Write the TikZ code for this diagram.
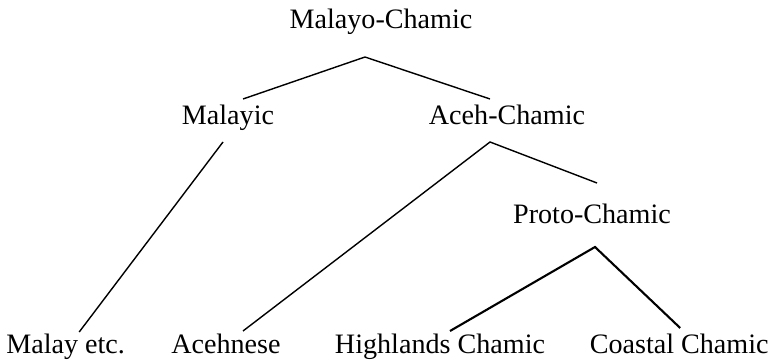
\documentclass[tikz,border=0pt]{standalone}
\usepackage{fontspec}
\setmainfont{Liberation Serif}
\begin{document}
\begin{tikzpicture}[
    lang/.style={anchor=base,inner sep=0pt,font=\fontsize{20}{24}\selectfont},
    branch/.style={line width=1pt},
    thickbranch/.style={line width=1.5pt}
]
\useasboundingbox (0,0) rectangle (19.325,8.975);

% Tree nodes
\node[lang] (mc) at (9.525,8.25) {Malayo-Chamic};
\node[lang] (malayic) at (5.7,5.85) {Malayic};
\node[lang] (ac) at (12.675,5.85) {Aceh-Chamic};
\node[lang] (pc) at (14.8,3.4) {Proto-Chamic};

% Leaves
\node[lang] (malay) at (1.64,0.15) {Malay etc.};
\node[lang] (acehnese) at (5.65,0.15) {Acehnese};
\node[lang] (highlands) at (11.0,0.15) {Highlands Chamic};
\node[lang] (coastal) at (16.98,0.15) {Coastal Chamic};

% Branches
\draw[branch] ([xshift=0.375cm,yshift=0.65cm]malayic.base) -- ([xshift=-0.4cm,yshift=-0.7cm]mc.base) -- ([xshift=-0.425cm,yshift=0.65cm]ac.base);
\draw[branch] ([xshift=-0.125cm,yshift=-0.425cm]malayic.base) -- ([xshift=0.34cm,yshift=0.525cm]malay.base);
\draw[branch] ([xshift=0.425cm,yshift=0.55cm]acehnese.base) -- ([xshift=-0.425cm,yshift=-0.425cm]ac.base) -- ([xshift=0.125cm,yshift=1.0cm]pc.base);
\draw[thickbranch] ([xshift=0.25cm,yshift=0.55cm]highlands.base) -- ([xshift=0.075cm,yshift=-0.6cm]pc.base) -- ([xshift=0.025cm,yshift=0.625cm]coastal.base);
\end{tikzpicture}
\end{document}
